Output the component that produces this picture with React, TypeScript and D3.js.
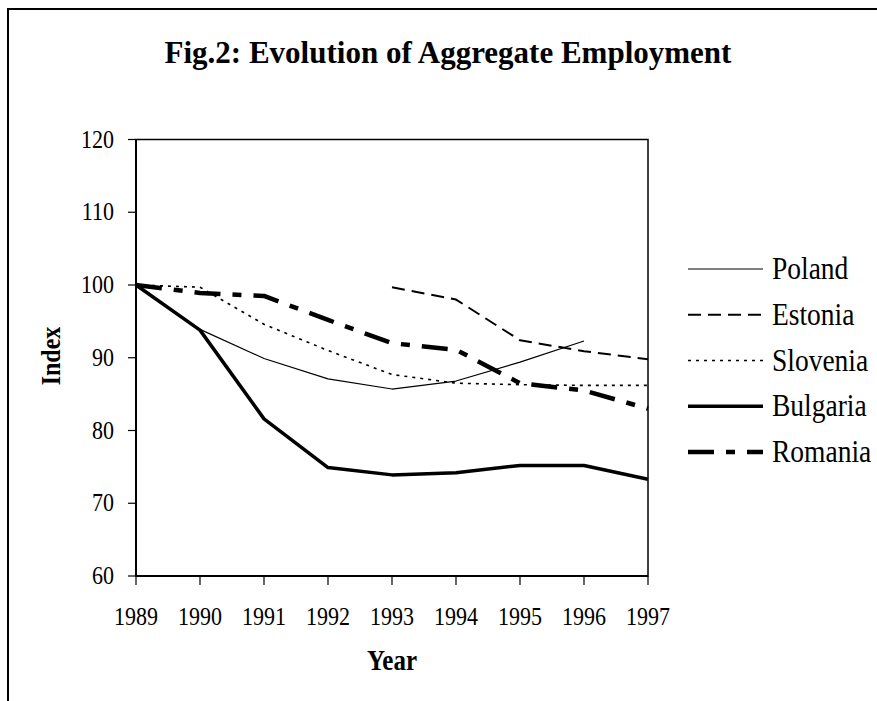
import React from 'react';
import * as d3 from 'd3';

// years on the x axis
const years = [1989, 1990, 1991, 1992, 1993, 1994, 1995, 1996, 1997];
const yTicks = [60, 70, 80, 90, 100, 110, 120];

// index values (null = no data)
const poland = [100, 93.9, 89.9, 87.1, 85.7, 86.8, 89.4, 92.3, null];
const estonia = [null, null, null, null, 99.7, 98.0, 92.4, 90.9, 89.8];
const slovenia = [100, 99.7, 94.6, 91.0, 87.7, 86.5, 86.3, 86.2, 86.2];
const bulgaria = [100, 93.8, 81.6, 74.9, 73.9, 74.2, 75.2, 75.2, 73.3];
const romania = [100, 98.9, 98.5, 95.2, 92.0, 91.1, 86.5, 85.5, 83.0];

const seriesNames = ['Poland', 'Estonia', 'Slovenia', 'Bulgaria', 'Romania'];
const seriesValues = [poland, estonia, slovenia, bulgaria, romania];

// line looks per series
const styles = [
  { width: 1.2, dash: null },
  { width: 2, dash: '13,7' },
  { width: 1.6, dash: '3,5' },
  { width: 3.5, dash: null },
  { width: 4.5, dash: '26,12,9,12' },
];

const W = 877;
const H = 701;
const font = '"Liberation Serif", "Times New Roman", serif';
const STRETCH = 1.14; // the original glyphs are drawn a bit taller than wide

// text that is stretched vertically around its baseline
const Tall = ({ x, y, size, anchor = 'start', bold = false, children }: any) => (
  <text
    transform={`translate(${x},${y}) scale(1,${STRETCH})`}
    textAnchor={anchor}
    fontSize={size}
    fontWeight={bold ? 'bold' : 'normal'}
  >
    {children}
  </text>
);

export default function App() {
  const x = d3.scaleLinear().domain([1989, 1997]).range([136, 648]);
  const y = d3.scaleLinear().domain([60, 120]).range([576, 139.5]);

  const line = d3
    .line<number | null>()
    .defined((d) => d != null)
    .x((d, i) => x(years[i]))
    .y((d) => y(d as number));

  const legendY = d3.scalePoint<string>().domain(seriesNames).range([269, 452]);

  return (
    <svg
      width={W}
      height={H}
      style={{ position: 'absolute', left: 0, top: 0, background: '#fff' }}
      fontFamily={font}
    >
      {/* outer frame, runs past the picture's right and bottom edge */}
      <rect x={8} y={9} width={W + 20} height={H + 20} fill="none" stroke="#000" strokeWidth={2} />

      <text x={448} y={63} textAnchor="middle" fontSize={31} fontWeight="bold">
        Fig.2: Evolution of Aggregate Employment
      </text>

      {/* plot frame */}
      <rect x={136} y={139.5} width={512} height={436.5} fill="none" stroke="#000" strokeWidth={1.5} />
      <line x1={136} x2={136} y1={139.5} y2={576} stroke="#000" strokeWidth={2} />
      <line x1={136} x2={648} y1={576} y2={576} stroke="#000" strokeWidth={2} />

      {/* y axis ticks */}
      {yTicks.map((t) => (
        <g key={t}>
          <line x1={128} x2={136} y1={y(t)} y2={y(t)} stroke="#000" strokeWidth={1.2} />
          <Tall x={114} y={y(t) + 8} size={22} anchor="end">
            {t}
          </Tall>
        </g>
      ))}

      {/* x axis ticks */}
      {years.map((yr) => (
        <g key={yr}>
          <line x1={x(yr)} x2={x(yr)} y1={576} y2={585} stroke="#000" strokeWidth={1.2} />
          <Tall x={x(yr)} y={625} size={22} anchor="middle">
            {yr}
          </Tall>
        </g>
      ))}

      <Tall x={392} y={670} size={25} anchor="middle" bold>
        Year
      </Tall>
      <text
        transform={`translate(60,356) rotate(-90) scale(1,${STRETCH})`}
        textAnchor="middle"
        fontSize={24}
        fontWeight="bold"
      >
        Index
      </text>

      {/* series */}
      {seriesValues.map((vals, i) => (
        <path
          key={seriesNames[i]}
          d={line(vals) || ''}
          fill="none"
          stroke="#000"
          strokeWidth={styles[i].width}
          strokeDasharray={styles[i].dash || undefined}
          strokeLinejoin="round"
        />
      ))}

      {/* legend */}
      {seriesNames.map((name, i) => (
        <g key={name}>
          <line
            x1={688}
            x2={763}
            y1={legendY(name)}
            y2={legendY(name)}
            stroke="#000"
            strokeWidth={styles[i].width}
            strokeDasharray={styles[i].dash || undefined}
          />
          <Tall x={772} y={(legendY(name) as number) + 10} size={27.5}>
            {name}
          </Tall>
        </g>
      ))}
    </svg>
  );
}
